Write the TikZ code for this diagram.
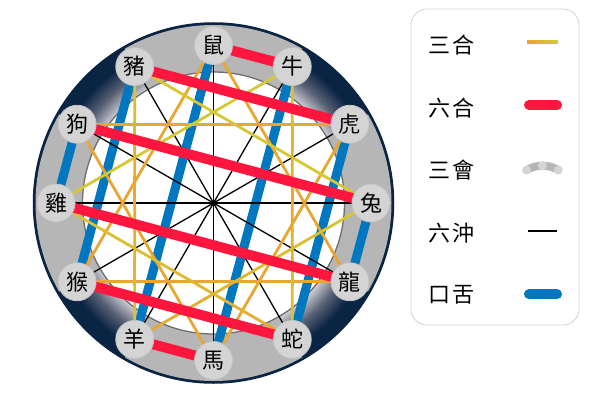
\documentclass[tikz,border=0pt]{standalone}
\usepackage{fontspec}
\newfontfamily\cjk{Noto Sans CJK TC}
\usetikzlibrary{calc}
\pgfdeclarelayer{back}
\pgfdeclarelayer{links}
\pgfsetlayers{back,links,main}
\definecolor{ringin}{RGB}{205,205,212}
\definecolor{ringmid}{RGB}{88,96,116}
\definecolor{ringout}{RGB}{10,36,68}
\definecolor{bandgray}{RGB}{182,182,182}
\definecolor{innerline}{RGB}{110,110,110}
\definecolor{nodegray}{RGB}{212,212,212}
\definecolor{nodeedge}{RGB}{196,196,196}
\definecolor{liuhered}{RGB}{255,22,62}
\definecolor{koublue}{RGB}{0,119,190}
\definecolor{sanheO}{RGB}{233,166,48}
\definecolor{sanheY}{RGB}{214,200,52}
\definecolor{legline}{RGB}{210,210,210}
\pgfdeclareradialshading{ringshade}{\pgfpoint{0bp}{0bp}}{color(0bp)=(ringin); color(18.2bp)=(ringin); color(20.6bp)=(ringmid); color(23bp)=(ringout); color(50bp)=(ringout)}
\tikzset{
  animal/.style={circle, minimum size=38pt, inner sep=0pt, fill=nodegray, draw=nodeedge, line width=0.8pt, font=\cjk\fontsize{22pt}{22pt}\selectfont},
  band/.style={draw=bandgray, line width=48pt},
  chong/.style={draw=black, line width=1.3pt},
  liuhe/.style={draw=liuhered, line width=10pt},
  kou/.style={draw=koublue, line width=9pt},
  sanhe/.style={line width=2.8pt},
  legtext/.style={anchor=west, inner sep=0pt, font=\cjk\fontsize{22pt}{22pt}\selectfont},
}
\newcommand{\sanheline}[5]{%
  \foreach \k in {0,...,9}{%
    \pgfmathsetmacro\ta{\k/10}%
    \pgfmathsetmacro\tb{(\k+1)/10+0.006}%
    \pgfmathtruncatemacro\pc{mod(\k,5)*20+10}%
    \ifnum\k<5 \def\cola{#4!\pc!#3}\else\def\cola{#5!\pc!#4}\fi
    \draw[sanhe, draw=\cola] ($(#1.center)!\ta!(#2.center)$) -- ($(#1.center)!\tb!(#2.center)$);
  }}
\begin{document}
\begin{tikzpicture}[x=1pt,y=1pt]
\useasboundingbox (0,0) rectangle (600,400);
\coordinate (C) at (213.5,197);
\foreach \n/\a/\t in {rat/90/鼠, ox/60/牛, tiger/30/虎, rabbit/0/兔, dragon/-30/龍, snake/-60/蛇, horse/-90/馬, goat/-120/羊, monkey/-150/猴, rooster/180/雞, dog/150/狗, pig/120/豬}
  \node[animal] (\n) at ($(C)+(\a:157.5pt)$) {\t};

\begin{pgfonlayer}{back}
  \shade[shading=ringshade] (C) circle (180pt);
  \draw[ringout, line width=1.5pt] (C) circle (180pt);
  \foreach \s in {120,30,-60,-150}
    \draw[band] ($(C)+(\s:154pt)$) arc[start angle=\s, delta angle=-60, radius=154pt];
  \draw[fill=white, draw=innerline, line width=1.3pt] (C) circle (131pt);
\end{pgfonlayer}

\begin{pgfonlayer}{links}
  % kou she
  \foreach \a/\b in {pig/monkey, rat/goat, ox/horse, tiger/snake, rabbit/dragon, rooster/dog}
    \draw[kou] (\a.center) -- (\b.center);
  % liu chong
  \foreach \a/\b in {rat/horse, ox/goat, tiger/monkey, rabbit/rooster, dragon/dog, snake/pig}
    \draw[chong] (\a.center) -- (\b.center);
  % san he
  \foreach \a/\b in {rat/monkey, rat/dragon, monkey/dragon, tiger/dog, tiger/horse, dog/horse}
    \draw[sanhe, draw=sanheO] (\a.center) -- (\b.center);
  \foreach \a/\b in {pig/rabbit, ox/rooster}
    \draw[sanhe, draw=sanheY] (\a.center) -- (\b.center);
  \sanheline{pig}{goat}{sanheY}{sanheO}{sanheY}
  \sanheline{ox}{snake}{sanheY}{sanheO}{sanheY}
  \sanheline{rabbit}{goat}{sanheY}{sanheY!50!sanheO}{sanheO}
  \sanheline{rooster}{snake}{sanheY}{sanheY!60!sanheO}{sanheO}
  % liu he
  \foreach \a/\b in {rat/ox, tiger/pig, rabbit/dog, dragon/rooster, snake/monkey, horse/goat}
    \draw[liuhe] (\a.center) -- (\b.center);
\end{pgfonlayer}

% legend
\node[draw=legline, rounded corners=16pt, fill=white, minimum width=168pt, minimum height=316pt, line width=0.8pt] (legend) at (495,233) {};
\node[legtext] (lsanhe) at (428,355) {三\hspace{2pt}合};
\node[legtext] (lliuhe) at (428,291.7) {六\hspace{2pt}合};
\node[legtext] (lsanhui) at (428,230) {三\hspace{2pt}會};
\node[legtext] (lchong) at (428,166.7) {六\hspace{2pt}沖};
\node[legtext] (lkou) at (428,105) {口\hspace{2pt}舌};
\shade[left color=sanheO, right color=sanheY] (527,356.3) rectangle (558,359.1);
\draw[liuhe, line cap=round] (529,295) -- (557,295);
\draw[draw=bandgray, line width=8pt, line cap=round] (526.7,230) arc[start angle=120.4, end angle=59.6, radius=31.2];
\foreach \p in {(526.7,230),(542.5,234.3),(558.3,230)}
  \fill[nodegray] \p circle (4.5pt);
\draw[black, line width=1.4pt] (528.3,169) -- (557.3,169);
\draw[kou, line width=10pt, line cap=round] (529,105.7) -- (557,105.7);
\end{tikzpicture}
\end{document}
